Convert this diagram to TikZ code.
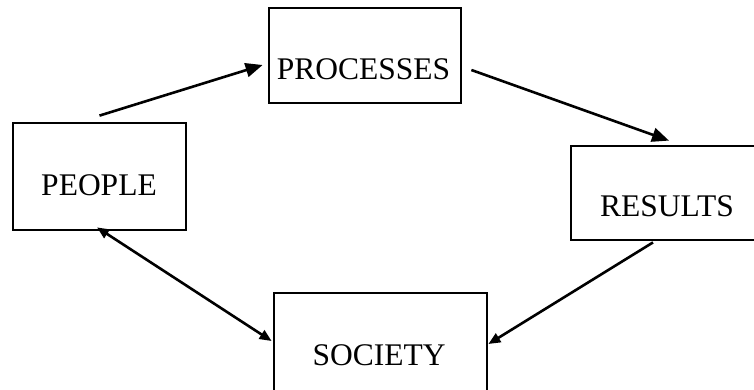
\documentclass[tikz,border=0pt]{standalone}
\usepackage{fontspec}
\setmainfont{Liberation Serif}
\usetikzlibrary{arrows.meta,calc}
\begin{document}
\begin{tikzpicture}[x=1pt,y=-1pt,
  boxnode/.style={draw=black,line width=2.8pt,rectangle,inner sep=0pt},
  lbl/.style={anchor=base,inner sep=0pt,font=\fontsize{31.5}{37}\selectfont},
  conn/.style={line width=2.6pt,draw=black},
  bighead/.style={-{Triangle[length=17pt,width=14pt]}},
  smallhead/.style={-{Triangle[length=12pt,width=10pt]}},
  bothhead/.style={{Triangle[length=12pt,width=10pt]}-{Triangle[length=12pt,width=10pt]}}]
\useasboundingbox (0,0) rectangle (754,389);
% boxes
\node[boxnode,minimum width=192pt,minimum height=95pt] (processes) at (365,55.5) {};
\node[boxnode,minimum width=173pt,minimum height=107pt] (people) at (99.5,176.5) {};
\node[boxnode,minimum width=186pt,minimum height=94pt] (results) at (664,193) {};
\node[boxnode,minimum width=213pt,minimum height=99pt] (society) at (380.5,342.5) {};
% labels
\node[lbl] (tprocesses) at (363.5,79) {PROCESSES};
\node[lbl] (tpeople) at (99,195) {PEOPLE};
\node[lbl] (tresults) at (667,216) {RESULTS};
\node[lbl] (tsociety) at (379,365) {SOCIETY};
% connectors
\draw[conn,bighead] ([yshift=6pt]people.north) -- ([xshift=-5pt,yshift=-9.5pt]processes.west);
\draw[conn,bighead] ([xshift=9pt,yshift=-14.5pt]processes.east) -- ([xshift=5pt,yshift=4pt]results.north);
\draw[conn,smallhead] ([xshift=-11pt,yshift=-1pt]results.south) -- ([yshift=-1.5pt]society.east);
\draw[conn,bothhead] ([xshift=-2.5pt,yshift=4pt]people.south) -- ([xshift=-1pt,yshift=1.5pt]society.west);
\end{tikzpicture}
\end{document}
